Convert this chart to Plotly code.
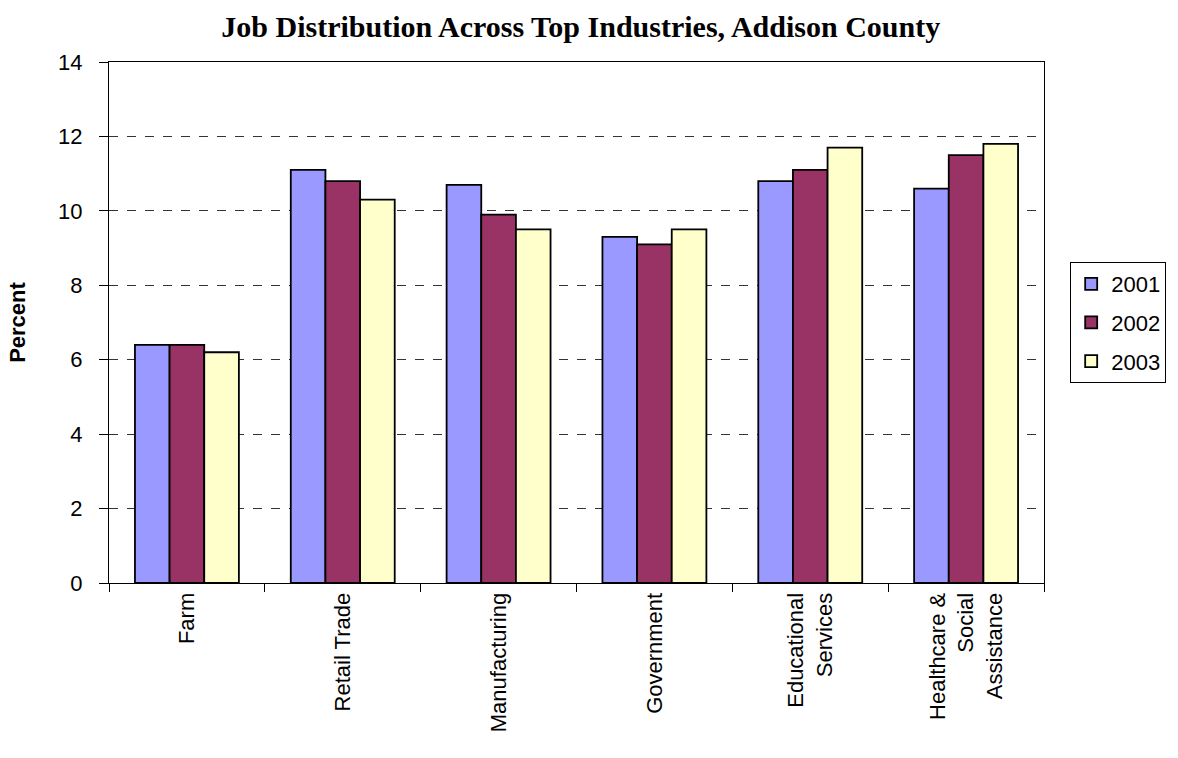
import plotly.graph_objects as go

industries = ["Farm", "Retail Trade", "Manufacturing", "Government",
              "Educational<br>Services", "Healthcare &<br>Social<br>Assistance"]
years = ["2001", "2002", "2003"]
pct_2001 = [6.4, 11.1, 10.7, 9.3, 10.8, 10.6]
pct_2002 = [6.4, 10.8, 9.9, 9.1, 11.1, 11.5]
pct_2003 = [6.2, 10.3, 9.5, 9.5, 11.7, 11.8]
colors = ["#9999FF", "#993366", "#FFFFCC"]

fig = go.Figure()
for name, vals, col in zip(years, [pct_2001, pct_2002, pct_2003], colors):
    fig.add_trace(go.Bar(
        x=industries, y=vals, name=name, legendgroup=name,
        marker=dict(color=col, line=dict(color="black", width=1.8)),
    ))

fig.update_layout(
    width=1178, height=758,
    paper_bgcolor="white", plot_bgcolor="white",
    margin=dict(l=109, r=132, t=62, b=175),
    barmode="group", bargap=0.333, bargroupgap=0,
    title=dict(text="<b>Job Distribution Across Top Industries, Addison County</b>",
               x=0.493, xanchor="center", y=0.965, yanchor="middle",
               font=dict(family="Liberation Serif", size=30, color="black")),
    font=dict(family="Liberation Sans", color="black"),
    legend=dict(x=1.028, y=0.616, xanchor="left", yanchor="top",
                bordercolor="black", borderwidth=1,
                font=dict(family="Liberation Sans", size=22, color="black"),
                tracegroupgap=7, itemwidth=30),
    showlegend=True,
)
fig.update_xaxes(
    showline=True, linecolor="black", linewidth=1, mirror=True,
    ticks="outside", tickson="boundaries", ticklen=8, tickcolor="black",
    tickangle=-90, tickfont=dict(size=22, family="Liberation Sans"),
    showgrid=False,
)
fig.update_yaxes(
    range=[0, 14], dtick=2,
    showline=True, linecolor="black", linewidth=1, mirror=True,
    ticks="outside", ticklen=9, tickcolor="black", ticklabelstandoff=12,
    tickfont=dict(size=22, family="Liberation Sans"),
    showgrid=True, gridcolor="#333333", griddash="dash", gridwidth=1,
    zeroline=False,
    title=dict(text="<b>Percent</b>", font=dict(size=22, family="Liberation Sans"),
               standoff=26),
)

fig.write_html("out.html")
